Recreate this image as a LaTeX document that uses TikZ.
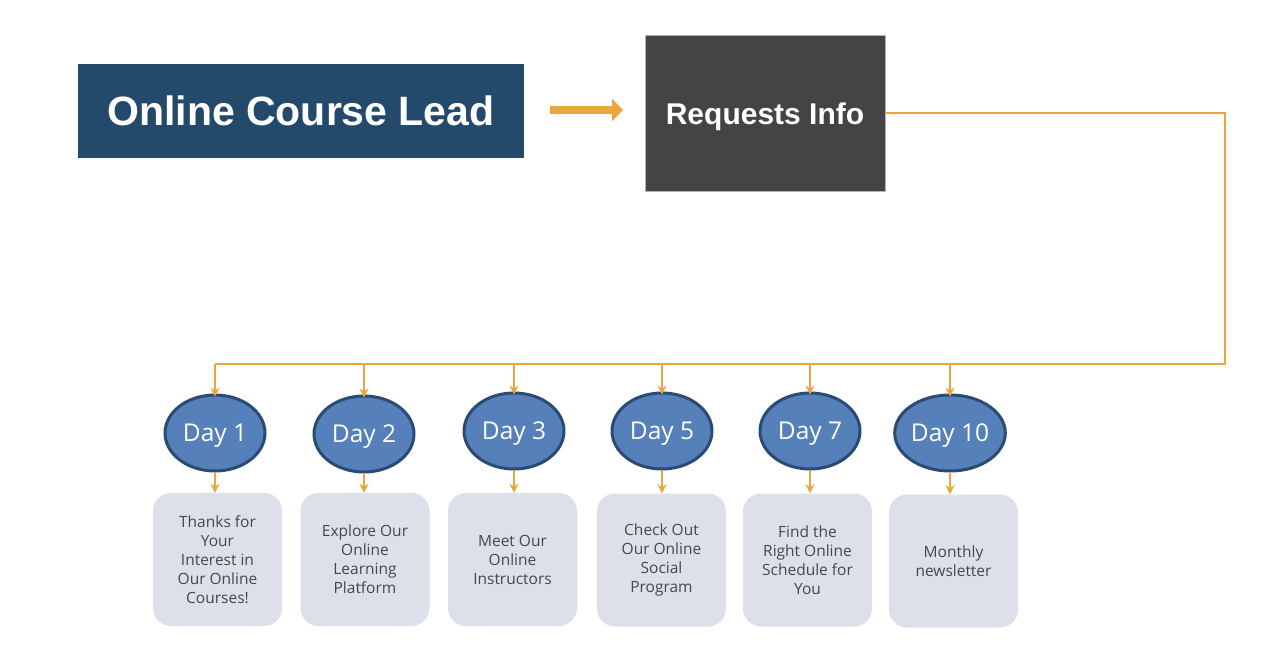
\documentclass[tikz,border=0pt]{standalone}
\usepackage{fontspec}
\setmainfont{Open Sans}
\newfontfamily\arialb{Liberation Sans}
\usetikzlibrary{arrows.meta,shapes.geometric}
\definecolor{leadblue}{HTML}{234A6B}
\definecolor{reqgray}{HTML}{444444}
\definecolor{orangec}{HTML}{EBA63E}
\definecolor{dayfill}{HTML}{5580BA}
\definecolor{dayedge}{HTML}{2B4B75}
\definecolor{boxfill}{HTML}{DDE0EA}
\definecolor{boxtext}{HTML}{45474D}
\newcommand{\dn}[2]{\raisebox{-#1}[\height][\depth]{#2}}
\tikzset{
  x=1pt,y=-1pt,
  dayell/.style={ellipse, draw=dayedge, line width=3pt, fill=dayfill, minimum width=100pt, minimum height=76pt, inner sep=0pt, text=white, font=\fontsize{24.5}{28}\selectfont},
  msgbox/.style={rounded corners=18pt, fill=boxfill, minimum width=129pt, minimum height=133pt, align=center, text=boxtext, font=\fontsize{15.5}{19}\selectfont, inner sep=0pt},
  conn/.style={draw=orangec, line width=1.8pt},
  connarrow/.style={conn, -{Stealth[length=9pt,width=9pt]}},
}
\begin{document}
\begin{tikzpicture}
\useasboundingbox (0,0) rectangle (1264,668);
\fill[white] (0,0) rectangle (1264,668);
\node[fill=leadblue, minimum width=446pt, minimum height=94pt, inner sep=0pt, text=white, font=\arialb\bfseries\fontsize{41}{46}\selectfont] (lead) at (301,111) {Online Course Lead};
\node[fill=reqgray, draw=gray!60, line width=0.6pt, minimum width=240pt, minimum height=156pt, inner sep=0pt, text=white, font=\arialb\bfseries\fontsize{30}{34}\selectfont] (req) at (765,113) {\dn{4pt}{Requests Info}};
\coordinate (gs) at (550,110);
\coordinate (ge) at (623,110);
\draw[orangec, line width=8pt, -{Triangle[length=11pt,width=22pt]}] (gs) -- (ge);
\node[dayell] (d1) at (215,433) {\dn{3pt}{Day 1}};
\node[dayell] (d2) at (364,434) {\dn{3pt}{Day 2}};
\node[dayell] (d3) at (514,431) {\dn{3pt}{Day 3}};
\node[dayell] (d5) at (662,431) {\dn{3pt}{Day 5}};
\node[dayell] (d7) at (810,431) {\dn{3pt}{Day 7}};
\node[dayell] (d10) at (950,433) {\dn{3pt}{Day 10}};
\node[msgbox] (b1) at (217.5,559.5) {Thanks for\\Your\\Interest in\\Our Online\\Courses!};
\node[msgbox] (b2) at (365,559.5) {Explore Our\\Online\\Learning\\Platform};
\node[msgbox] (b3) at (512.5,559.5) {Meet Our\\Online\\Instructors};
\node[msgbox] (b5) at (661.5,560) {Check Out\\Our Online\\Social\\Program};
\node[msgbox] (b7) at (807.5,560) {Find the\\Right Online\\Schedule for\\You};
\node[msgbox] (b10) at (953.5,561) {Monthly\\newsletter};
\coordinate (rc) at (1225,364);
\coordinate (bl) at (215,364);
\draw[conn] (req.east) -- (req.east -| rc) -- (rc) -- (bl);
\foreach \d in {d1,d2,d3,d5,d7,d10}{
  \draw[connarrow] (\d.north |- rc) -- ([yshift=-3pt]\d.north);
}
\foreach \d/\b in {d1/b1,d2/b2,d3/b3,d5/b5,d7/b7,d10/b10}{
  \draw[connarrow] ([yshift=1pt]\d.south) -- (\d.south |- \b.north);
}
\end{tikzpicture}
\end{document}
